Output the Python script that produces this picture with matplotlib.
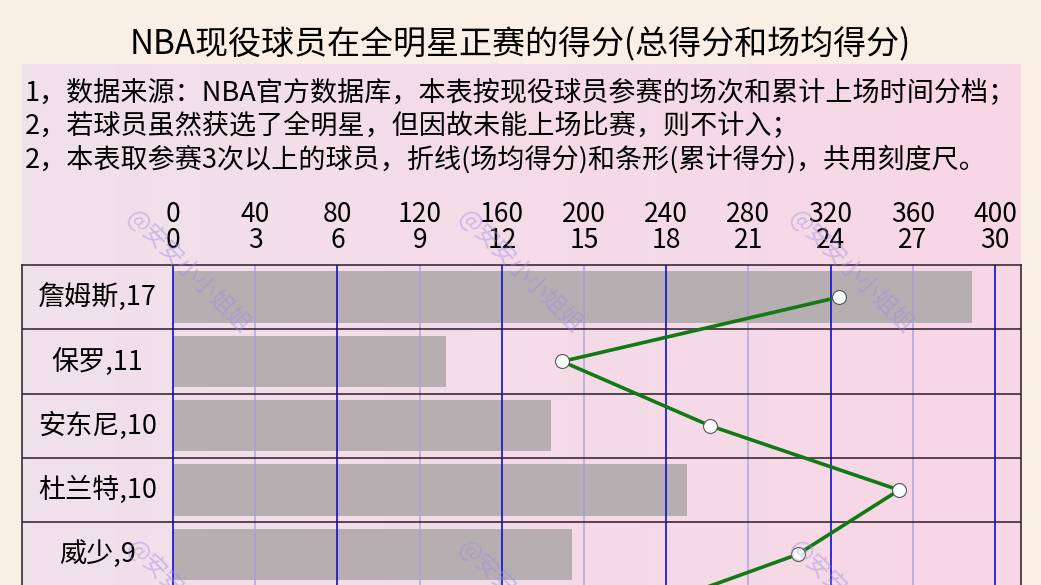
import numpy as np
import matplotlib
matplotlib.use('Agg')
import matplotlib.pyplot as plt

plt.rcParams['font.family'] = ['Noto Sans CJK SC', 'DejaVu Sans']

# data
players = ['詹姆斯,17', '保罗,11', '安东尼,10', '杜兰特,10', '威少,9']
total_pts = [389, 133, 184, 250, 194]
# last value belongs to the 6th row, which is cut off at the bottom of the picture
avg_pts = [24.3, 14.2, 19.6, 26.5, 22.8, 16.3]

total_ticks = [0, 40, 80, 120, 160, 200, 240, 280, 320, 360, 400]
avg_ticks = [0, 3, 6, 9, 12, 15, 18, 21, 24, 27, 30]

title = 'NBA现役球员在全明星正赛的得分(总得分和场均得分)'
notes = ['1，数据来源：NBA官方数据库，本表按现役球员参赛的场次和累计上场时间分档；',
         '2，若球员虽然获选了全明星，但因故未能上场比赛，则不计入；',
         '2，本表取参赛3次以上的球员，折线(场均得分)和条形(累计得分)，共用刻度尺。']

W, H = 1041, 585
fig = plt.figure(figsize=(W / 100, H / 100), dpi=100, facecolor='#FAEFE4')

# pink panel with a soft left-to-right gradient
bg = fig.add_axes([22 / W, 0, 999 / W, 521 / H])
c1 = np.array([240, 225, 234]) / 255
c2 = np.array([248, 214, 230]) / 255
t = np.linspace(0, 1, 256)[None, :, None]
bg.imshow(c1 + (c2 - c1) * t, aspect='auto', extent=[0, 1, 0, 1])
bg.axis('off')

fig.text(0.5, 1 - 45 / H, title, ha='center', va='center', fontsize=23.8)
for i, line in enumerate(notes):
    fig.text(25 / W, 1 - (94 + 32.5 * i) / H, line, ha='left', va='center', fontsize=19.5)

# table area: top at 265px, rows of 64.3px, runs past the bottom edge
n_rows = len(avg_pts)
row_h = 64.3
ax = fig.add_axes([22 / W, 1 - (265 + row_h * n_rows) / H, 999 / W, row_h * n_rows / H])
ax.set_facecolor('none')
xmin, xmax = -73.5, 412.65
ax.set_xlim(xmin, xmax)
ax.set_ylim(n_rows - 0.5, -0.5)

rows = np.arange(len(players))
ax.barh(rows, total_pts, height=0.8, left=0, color='#B6AEB1', zorder=1)

for i, tk in enumerate(total_ticks):
    if i % 2 == 0:
        ax.axvline(tk, color='#1010D0', lw=1.2, zorder=2)
    else:
        ax.axvline(tk, color='#A89CE0', lw=1.2, alpha=0.8, zorder=2)

for k in range(n_rows):
    ax.axhline(k + 0.5, color='#2B1B2B', lw=1.1, zorder=2)

for i, name in enumerate(players):
    ax.text(xmin / 2, i, name, ha='center', va='center', fontsize=19.5)

for s in ax.spines.values():
    s.set_color('#2B1B2B')
    s.set_linewidth(1.1)
ax.set_yticks([])

ax2 = ax.twiny()
ax2.set_xlim(xmin * 30 / 400, xmax * 30 / 400)
ax2.set_xticks(avg_ticks)
ax2.set_xticklabels([str(v) for v in avg_ticks], fontsize=19)
ax2.tick_params(axis='x', length=0, pad=8)
for s in ax2.spines.values():
    s.set_visible(False)
ax2.plot(avg_pts, np.arange(n_rows), color='#127A12', lw=2.6,
         marker='o', markersize=10, markerfacecolor='white',
         markeredgecolor='#555555', markeredgewidth=0.8, zorder=3)

# twiny moves the first axis ticks to the bottom, so put them back on top
ax.xaxis.tick_top()
ax.set_xticks(total_ticks)
ax.set_xticklabels([str(v) for v in total_ticks], fontsize=19)
ax.tick_params(axis='x', length=0, pad=27)

# watermark
for wy in [213, 543]:
    for wx in [130, 462, 793]:
        fig.text(wx / W, 1 - wy / H, '@安安小小姐姐', rotation=-45, rotation_mode='anchor',
                 ha='left', va='center', fontsize=17, color='#9C8FE0', alpha=0.45, zorder=10)

fig.savefig('out.png', dpi=100, facecolor=fig.get_facecolor())
